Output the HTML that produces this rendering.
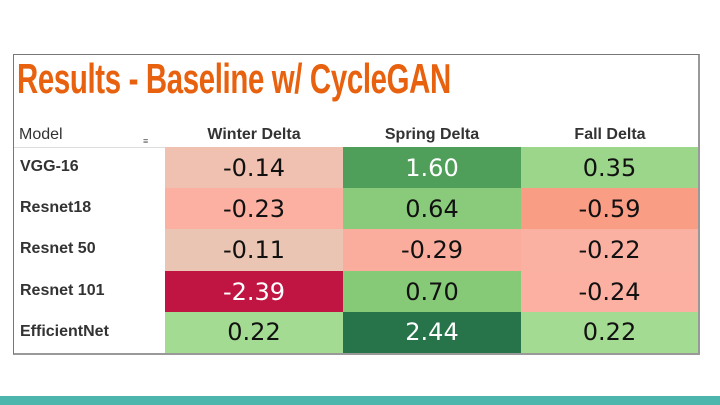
<!DOCTYPE html>
<html><head><meta charset="utf-8">
<style>
body{margin:0;width:720px;height:405px;background:#fff;position:relative;overflow:hidden;font-family:"Liberation Sans",sans-serif}
#frame{position:absolute;left:13px;top:54px;width:687px;height:301px;border:1px solid #777;border-right:2px solid #999;border-bottom:2px solid #999;box-sizing:border-box;z-index:2;pointer-events:none}
#title{position:absolute;left:17px;top:55px;font-family:"Liberation Sans Narrow","Liberation Sans",sans-serif;font-weight:bold;font-size:42px;color:#e8610e;letter-spacing:-0.5px;transform:scaleX(0.7);transform-origin:left top;white-space:nowrap}
.h{position:absolute;top:126px;font-size:16px;color:#333;font-weight:bold}
.cell{position:absolute;display:flex;align-items:center;justify-content:center;font-family:"DejaVu Sans",sans-serif;font-size:24px;color:#111}
.rl{position:absolute;left:20px;font-weight:bold;font-size:16px;color:#333}
#bar{position:absolute;left:0;top:396px;width:720px;height:9px;background:#4db6ac}
</style></head><body>
<div id="frame"></div>
<div id="title">Results - Baseline w/ CycleGAN</div>
<div style="position:absolute;left:14px;top:147px;width:684px;height:1px;background:#ddd"></div>
<div class="h" style="left:19px;font-weight:normal">Model</div>
<div style="position:absolute;left:143px;top:136px;font-size:9px;color:#555">≡</div>
<div id="tbl"></div>
<div id="bar"></div>
<script>
const models=["VGG-16","Resnet18","Resnet 50","Resnet 101","EfficientNet"];
const columns=["Winter Delta","Spring Delta","Fall Delta"];
const winter=[-0.14,-0.23,-0.11,-2.39,0.22];
const spring=[1.60,0.64,-0.29,0.70,2.44];
const fall=[0.35,-0.59,-0.22,-0.24,0.22];
const series=[winter,spring,fall];
const stops=[[-2.39,[192,20,66]],[-0.59,[249,157,133]],[-0.2,[251,178,164]],[-0.12,[236,196,180]],[0.22,[164,219,147]],[0.7,[134,201,119]],[1.6,[79,158,90]],[2.44,[39,116,74]]];
function color(v){
 if(v<=stops[0][0])return stops[0][1];
 for(let i=1;i<stops.length;i++){if(v<=stops[i][0]){const a=stops[i-1],b=stops[i];const t=(v-a[0])/(b[0]-a[0]);return a[1].map((c,k)=>Math.round(c+(b[1][k]-c)*t));}}
 return stops[stops.length-1][1];
}
const x0=165,cw=178,y0=147,rh=41.2;
const tbl=document.getElementById('tbl');
columns.forEach((c,j)=>{
 const h=document.createElement('div');h.className='h';
 h.style.left=(x0+j*cw)+'px';h.style.width=cw+'px';h.style.textAlign='center';h.textContent=c;
 
 
 tbl.appendChild(h);
});
models.forEach((m,i)=>{
 const l=document.createElement('div');l.className='rl';
 l.style.top=(y0+i*rh+11)+'px';l.textContent=m;
 
 
 tbl.appendChild(l);
 series.forEach((s,j)=>{
  const v=s[i];const c=color(v);
  const d=document.createElement('div');d.className='cell';
  d.style.left=(x0+j*cw)+'px';d.style.top=(y0+i*rh)+'px';
  d.style.width=(j==2?177:cw)+'px';d.style.height=(i==4?Math.floor(rh):Math.ceil(rh))+'px';
  d.style.background='rgb('+c.join(',')+')';
  const lum=0.3*c[0]+0.59*c[1]+0.11*c[2];
  d.style.color=lum<130?'#fff':'#111';
  d.textContent=v.toFixed(2);
  
  
  tbl.appendChild(d);
 });
});
</script>
</body></html>
